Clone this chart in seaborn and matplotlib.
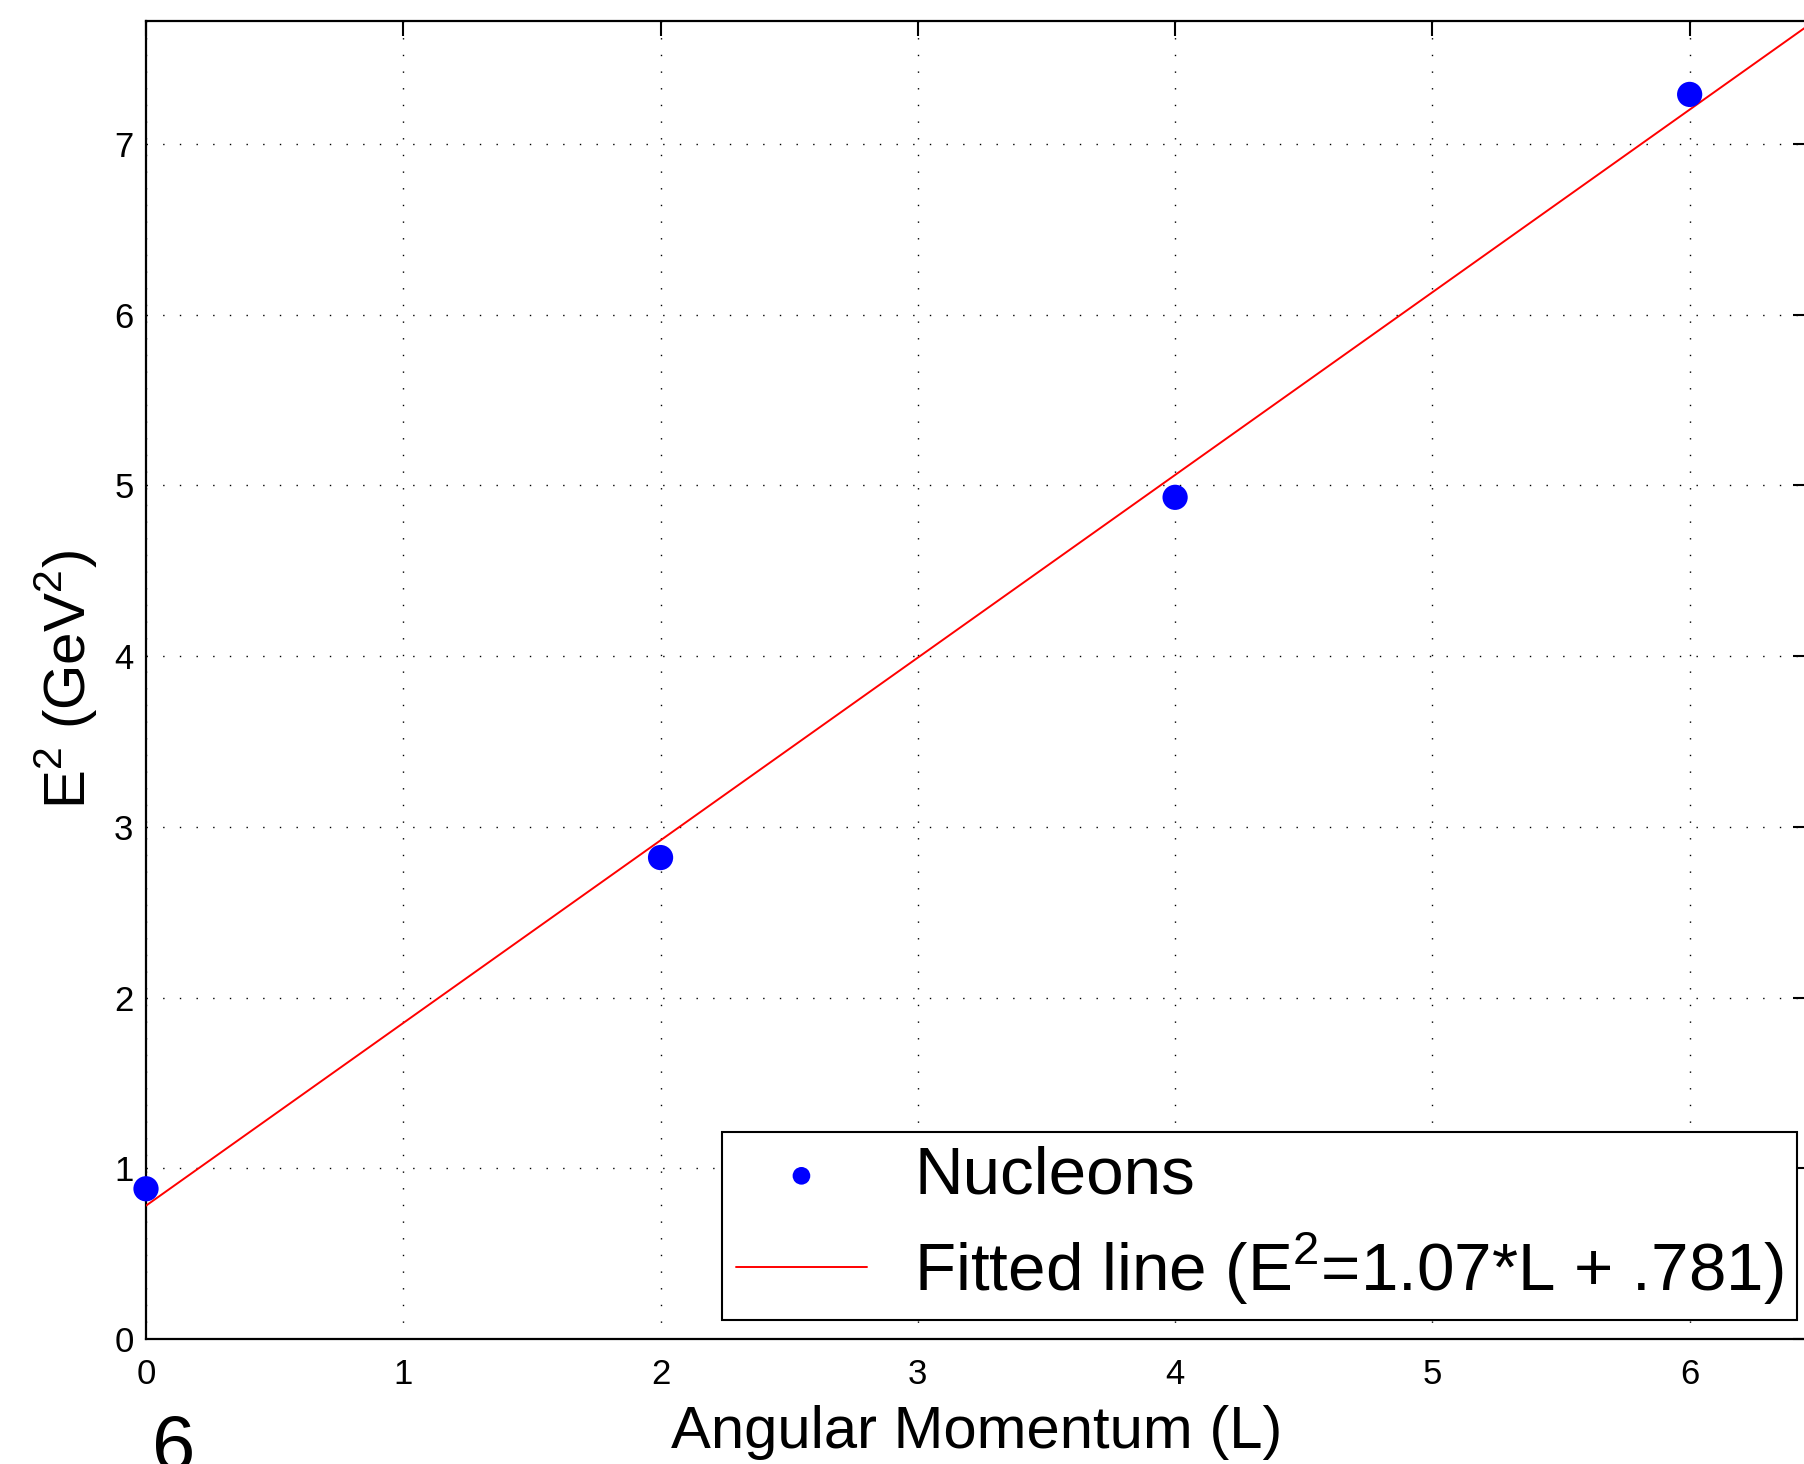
import numpy as np
import pandas as pd
import matplotlib
matplotlib.use('Agg')
import matplotlib.pyplot as plt
import seaborn as sns

# Data: nucleon Regge trajectory
L_values = [0, 2, 4, 6]
E2_values = [0.88, 2.82, 4.93, 7.29]
fit_slope = 1.07
fit_intercept = 0.781
x_ticks = [0, 1, 2, 3, 4, 5, 6]
y_ticks = [0, 1, 2, 3, 4, 5, 6, 7]
x_max = 6.46
y_max = 7.72

sns.set_style('white')
plt.rcParams['font.family'] = ['Liberation Sans', 'DejaVu Sans']
plt.rcParams['mathtext.fontset'] = 'custom'
plt.rcParams['mathtext.rm'] = 'Liberation Sans'
plt.rcParams['text.color'] = 'black'
plt.rcParams['axes.labelcolor'] = 'black'

df = pd.DataFrame({'L': L_values, 'E2': E2_values})
fit_x = np.array([0, x_max])
fit_df = pd.DataFrame({'L': fit_x, 'E2': fit_intercept + fit_slope * fit_x})

fig = plt.figure(figsize=(18.04, 14.64), dpi=100)
ax = fig.add_axes([146 / 1804, 125 / 1464, (1808 - 146) / 1804, (1339 - 21) / 1464])

sns.scatterplot(data=df, x='L', y='E2', ax=ax, color='#0000ff', s=330,
                edgecolor='none', label='Nucleons', zorder=4, clip_on=False)
sns.lineplot(data=fit_df, x='L', y='E2', ax=ax, color='#ff0000', linewidth=1.4,
             label='Fitted line (E$^2$=1.07*L + .781)', zorder=3)

ax.set_xlim(0, x_max)
ax.set_ylim(0, y_max)
ax.set_xticks(x_ticks)
ax.set_yticks(y_ticks)
ax.grid(True, color='black', linestyle=(0, (1, 11)), linewidth=1.0)
ax.tick_params(direction='in', length=11, width=1.5, top=True, right=True,
               labelsize=25, colors='black')
ax.tick_params(axis='x', pad=14)
ax.tick_params(axis='y', pad=9)
for sp in ax.spines.values():
    sp.set_color('black')
    sp.set_linewidth(1.6)

ax.set_xlabel('Angular Momentum (L)', fontsize=43, labelpad=10)
ax.set_ylabel('E$^2$ (GeV$^2$)', fontsize=42, labelpad=10)

leg = ax.legend(loc='lower right', bbox_to_anchor=(1797 / 1804, 144 / 1464),
                bbox_transform=fig.transFigure, borderaxespad=0, fontsize=48.5,
                frameon=True, fancybox=False, edgecolor='black', framealpha=1,
                handlelength=1.95, borderpad=0.2, labelspacing=0.33,
                handletextpad=0.7, markerscale=0.7)
leg.get_frame().set_linewidth(1.5)

fig.text(174 / 1804, 1 - 1413 / 1464, '6', fontsize=56, ha='center', va='top')

fig.savefig('out.png', dpi=100)
